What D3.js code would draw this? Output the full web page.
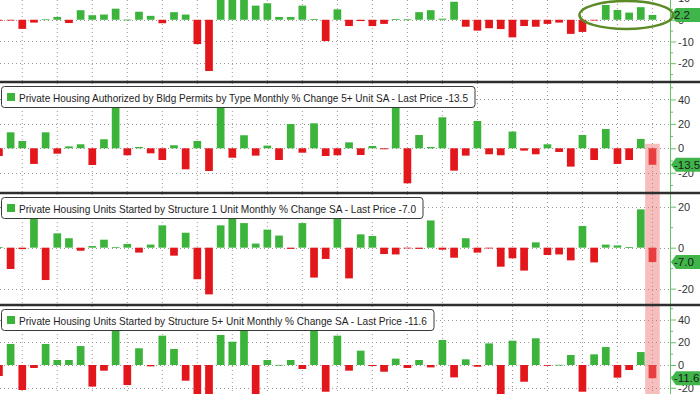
<!DOCTYPE html>
<html>
<head>
<meta charset="utf-8">
<script src="https://cdn.jsdelivr.net/npm/d3@7"></script>
<style>
  body { margin: 0; background: #fff; }
  svg { display: block; font-family: "Liberation Sans", Arial, sans-serif; }
</style>
</head>
<body>
<div id="chart"></div>
<script>
// monthly % change, 57 months, oldest first (last bar = latest print)
var months = d3.range(57);

// top panel (title cut off in the screenshot)
var topSeries = [-0.4, -0.2, -4.2, -1.3, 0.2, 1.3, -1.5, 4.4, 2.1, 2.4,
  5.1, 0.1, 3.7, 1.8, -1.6, 3.5, 2.4, -11.2, -23.6, 15,
  20, 12, 6.5, 7.6, 1.3, 1.3, 6.5, 0.3, -9.8, 4.8,
  -2.9, -0.6, -2.9, -1.9, 0.3, 0.2, 3.5, 4.4, 0.5, 8.3,
  -3.2, -5.0, -3.9, -4.3, -8.1, -2.9, -3.2, -1.9, -1.3, -6.5,
  -5.6, -0.1, 6.8, 4.5, 3.3, 5.8, 2.2];

var permits5 = [-6.3, 13.1, 6.0, -12.8, 13.1, -4.4, 1.6, 3.3, -13.7, 7.4,
  45, -5.7, 1.1, -4.1, -9.6, 2.5, -17.2, 6.0, -18.6, 42,
  -7.7, 10.7, -6.0, 2.2, -9.6, 19.9, -3.6, 20.5, -6.3, -5.7,
  4.9, -5.5, 1.9, -0.8, 40, -28.7, 10.9, 1.1, 25.4, -18.3,
  -6.0, 22.4, -4.9, -5.7, 13.7, -1.9, -4.9, 3.3, -3.0, -15.0,
  10.9, -9.6, 15.8, -12.8, -9.6, 7.7, -13.5];

var starts1 = [0.3, -10.4, -0.7, 18, -15.8, 7.0, 4.6, -1.5, 0.8, 3.9,
  0.2, 1.8, -2.4, 1.5, 10.9, -3.9, 7.3, -15.4, -22.8, 10.9,
  15, 12.0, 2.0, 8.8, 5.9, -0.6, 12.0, -14.6, -5.5, 16,
  -15, 6.5, 5.7, -3.1, -3.3, -0.3, -0.6, 13.3, -1.0, -4.9,
  4.6, -2.4, -0.2, -9.3, -5.2, -11.2, 2.6, -3.6, -3.3, -6.2,
  10.6, -7.2, 1.5, 1.1, 0.3, 18.7, -7.0];

var starts5 = [-9.7, 18.5, -22, -2.6, 18.5, 4.4, 4.4, 16.7, -19, -5.0,
  35, -17.6, 14.7, -1.2, 25.8, 14.1, -13.8, -30, -35, 26.4,
  20.5, 32, -30, 4.4, 0.1, 4.4, -3.5, 30, -23.5, 25.8,
  -5.0, 12.6, -0.9, -5.9, 5.6, -2.6, 4.4, -2.1, 22, -10.9,
  5.0, -1.5, 19, -30, 21.4, -14.7, 23.5, -0.6, 0.2, 8.8,
  -23.5, 9.4, 15.8, -11.1, -4.4, 11.4, -11.6];

var titles = [
  null,
  "Private Housing Authorized by Bldg Permits by Type Monthly % Change 5+ Unit SA - Last Price -13.5",
  "Private Housing Units Started by Structure 1 Unit Monthly % Change SA - Last Price -7.0",
  "Private Housing Units Started by Structure 5+ Unit Monthly % Change SA - Last Price -11.6"
];
var lastLabels = ["2.2", "-13.5", "-7.0", "-11.6"];
var tickSets = [[10, 0, -10, -20], [40, 20, 0, -20], [20, 0, -20], [40, 20, 0, -20]];
var minorSets = [[5, -5, -15, -25], [50, 30, 10, -10, -30], [10, -10], [50, 30, 10, -10]];

var svgWidth = 700;
var svgHeight = 394;
var axisX = 670;

var green = "#3cb43c";
var red = "#e3161b";

// panel geometry (pixel bands) and the value range each band shows
var panels = [
  { data: topSeries, top: 0, bottom: 81, domain: [-28.2, 9.1], textW: 0 },
  { data: permits5, top: 83, bottom: 192, domain: [-35.8, 53.5], textW: 449 },
  { data: starts1, top: 194, bottom: 304, domain: [-27.5, 26.2], textW: 397 },
  { data: starts5, top: 306, bottom: 394, domain: [-25.5, 51.9], textW: 408 }
];

var svg = d3.select("#chart")
  .append("svg")
  .attr("width", svgWidth)
  .attr("height", svgHeight);

var x = d3.scaleBand()
  .domain(months)
  .range([-6.9, 658.3])
  .paddingInner(0.34)
  .paddingOuter(0.17);

var bw = x.bandwidth();
var cx = d => x(d) + bw / 2;

var defs = svg.append("defs");

panels.forEach(function(p, k) {
  p.y = d3.scaleLinear().domain(p.domain).range([p.bottom, p.top]);

  defs.append("clipPath")
    .attr("id", "clip" + k)
    .append("rect")
    .attr("x", 0)
    .attr("y", p.top)
    .attr("width", axisX)
    .attr("height", p.bottom - p.top);

  var g = svg.append("g").attr("class", "panel");
  var plot = g.append("g").attr("clip-path", "url(#clip" + k + ")");

  // dotted grid
  plot.selectAll("line.vgrid")
    .data(months.filter(d => d % 3 === 2))
    .enter()
    .append("line")
    .attr("class", "vgrid")
    .attr("x1", d => cx(d))
    .attr("x2", d => cx(d))
    .attr("y1", p.top)
    .attr("y2", p.bottom)
    .attr("stroke", "#9a9a9a")
    .attr("stroke-width", 1)
    .attr("stroke-dasharray", "1,3");

  plot.selectAll("line.hgrid")
    .data(tickSets[k])
    .enter()
    .append("line")
    .attr("class", "hgrid")
    .attr("x1", 0)
    .attr("x2", axisX)
    .attr("y1", d => Math.round(p.y(d)) + 0.5)
    .attr("y2", d => Math.round(p.y(d)) + 0.5)
    .attr("stroke", "#9a9a9a")
    .attr("stroke-width", 1)
    .attr("stroke-dasharray", "1,3");

  p.plot = plot;
  p.g = g;
});

// pink highlight on the latest month (panels 2-4)
var last = months[months.length - 1];
svg.append("rect")
  .attr("x", cx(last) - 7.3)
  .attr("y", panels[1].y(-13.5) - 21)
  .attr("width", 14.6)
  .attr("height", panels[3].y(-11.6) + 19 - (panels[1].y(-13.5) - 21))
  .attr("fill", "#ee6e6e")
  .attr("opacity", 0.45);

panels.forEach(function(p, k) {
  var y = p.y;

  p.plot.selectAll("rect.bar")
    .data(months)
    .enter()
    .append("rect")
    .attr("class", "bar")
    .attr("x", d => x(d))
    .attr("width", bw)
    .attr("y", d => y(Math.max(0, p.data[d])))
    .attr("height", d => Math.max(0.8, Math.abs(y(p.data[d]) - y(0))))
    .attr("fill", d => p.data[d] >= 0 ? green : red);

  // right axis
  var axis = d3.axisRight(y)
    .tickValues(tickSets[k])
    .tickSize(6)
    .tickSizeOuter(0)
    .tickPadding(2)
    .tickFormat(d3.format("d"));

  var ag = p.g.append("g")
    .attr("transform", `translate(${axisX}, 0)`)
    .call(axis);

  ag.select(".domain")
    .attr("stroke", "#62c462")
    .attr("d", `M0.5,${p.top}V${p.bottom}`);
  ag.selectAll(".tick line").attr("stroke", "#62c462");
  ag.selectAll(".tick text")
    .attr("fill", "#333")
    .attr("font-size", "11px")
    .attr("font-family", "Liberation Sans, Arial, sans-serif")
    .text(d => d < 0 ? "-" + Math.abs(d) : d);

  p.g.append("g")
    .attr("transform", `translate(${axisX}, 0)`)
    .call(d3.axisRight(y).tickValues(minorSets[k]).tickSize(3).tickFormat(""))
    .call(g => g.select(".domain").remove())
    .selectAll(".tick line")
    .attr("stroke", "#62c462");

  // last value tag
  var ly = y(p.data[p.data.length - 1]);
  p.g.append("path")
    .attr("d", `M${axisX + 1},${ly} L${axisX + 6},${ly - 7} H702 V${ly + 7} H${axisX + 6} Z`)
    .attr("fill", "#3fb54a");
  p.g.append("text")
    .attr("x", axisX + 4)
    .attr("y", ly + 4)
    .attr("font-size", "11.5px")
    .attr("fill", "#1b1b1b")
    .text(lastLabels[k]);

  // legend / title box
  if (titles[k]) {
    var bt = p.top + 3.5;
    p.g.append("rect")
      .attr("x", 1.5)
      .attr("y", bt)
      .attr("width", 19 + p.textW + 7 - 1.5)
      .attr("height", 21)
      .attr("rx", 3)
      .attr("fill", "#fff")
      .attr("stroke", "#3a3a3a")
      .attr("stroke-width", 1);
    p.g.append("rect")
      .attr("x", 7)
      .attr("y", bt + 6.5)
      .attr("width", 8)
      .attr("height", 8)
      .attr("fill", green);
    p.g.append("text")
      .attr("x", 19)
      .attr("y", bt + 15)
      .attr("font-size", "11.5px")
      .attr("fill", "#1e1e1e")
      .attr("textLength", p.textW)
      .attr("lengthAdjust", "spacingAndGlyphs")
      .text(titles[k]);
  }
});

// panel separators
[82, 193, 305].forEach(function(sy) {
  svg.append("line")
    .attr("x1", 0)
    .attr("x2", svgWidth)
    .attr("y1", sy)
    .attr("y2", sy)
    .attr("stroke", "#2e2e2e")
    .attr("stroke-width", 2.5);
});

// green ring around the latest readings of the top panel
var ringL = cx(months[50]) - 3;
var ringR = 673;
svg.append("ellipse")
  .attr("cx", (ringL + ringR) / 2)
  .attr("cy", panels[0].y(2.2))
  .attr("rx", (ringR - ringL) / 2)
  .attr("ry", 14)
  .attr("fill", "none")
  .attr("stroke", "#5b8a26")
  .attr("stroke-width", 2.5);
</script>
</body>
</html>
